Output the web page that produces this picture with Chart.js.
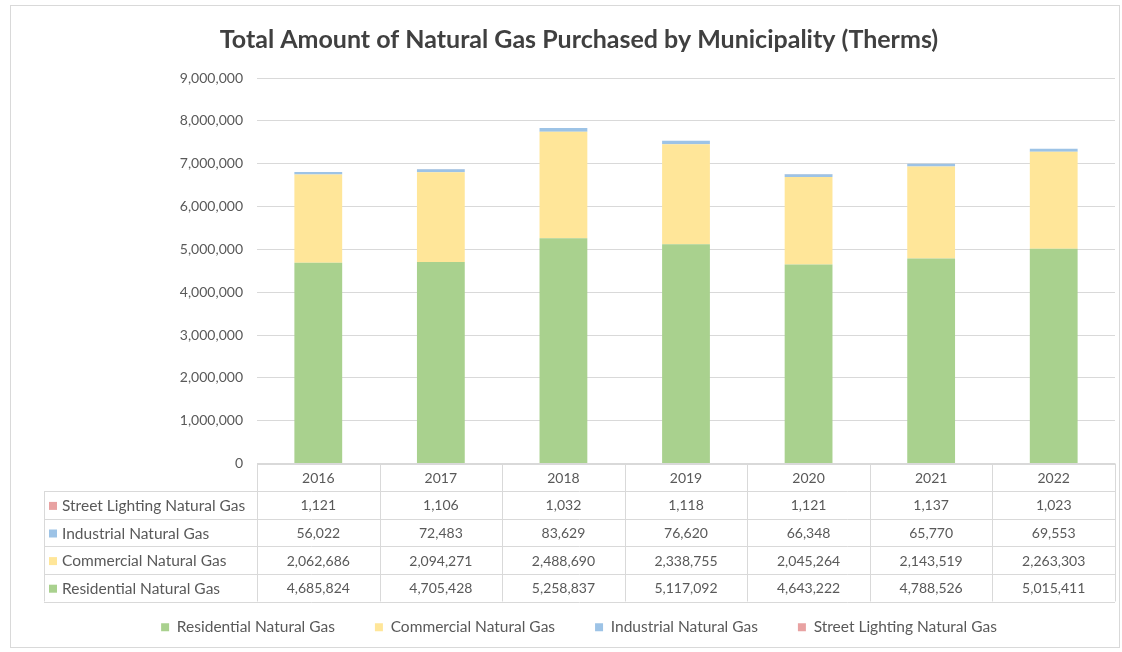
<!DOCTYPE html>
<html lang="en">
<head>
  <meta charset="UTF-8">
  <title>Total Amount of Natural Gas Purchased by Municipality (Therms)</title>
  <script src="https://cdn.jsdelivr.net/npm/chart.js"></script>
  <style>
    body { margin: 0; padding: 0; background: #fff; font-family: Lato, "Liberation Sans", sans-serif; }
    .frame { position: absolute; left: 10px; top: 5px; width: 1110px; height: 643px; border: 1px solid #d9d9d9; box-sizing: border-box; }
    #gasChart { display: block; }
  </style>
</head>
<body>
  <div class="frame">
    <canvas id="gasChart" width="1108" height="641"></canvas>
  </div>

  <script>
    // values
    var years = ['2016', '2017', '2018', '2019', '2020', '2021', '2022'];
    var residential = [4685824, 4705428, 5258837, 5117092, 4643222, 4788526, 5015411];
    var commercial = [2062686, 2094271, 2488690, 2338755, 2045264, 2143519, 2263303];
    var industrial = [56022, 72483, 83629, 76620, 66348, 65770, 69553];
    var streetLighting = [1121, 1106, 1032, 1118, 1121, 1137, 1023];

    var textColor = '#595959';
    var lineColor = '#d9d9d9';
    var fontFamily = 'Lato, "Liberation Sans", sans-serif';

    // data table drawn under the plot, aligned on the x scale
    var dataTable = {
      id: 'dataTable',
      afterDraw: function(chart) {
        var ctx = chart.ctx;
        var xs = chart.scales.x;
        var area = chart.chartArea;
        var rowH = 27.6;
        var labelLeft = 33;
        var top = area.bottom;
        var colW = (area.right - area.left) / years.length;
        var rows = chart.data.datasets.slice().reverse();

        ctx.save();
        ctx.strokeStyle = lineColor;
        ctx.lineWidth = 1;
        ctx.fillStyle = textColor;
        ctx.textBaseline = 'middle';

        // horizontal lines
        ctx.beginPath();
        ctx.moveTo(area.left, Math.round(top) + 0.5);
        ctx.lineTo(area.right, Math.round(top) + 0.5);
        for (var r = 1; r <= rows.length + 1; r++) {
          var y = Math.round(top + r * rowH) + 0.5;
          ctx.moveTo(labelLeft, y);
          ctx.lineTo(area.right, y);
        }
        // vertical lines
        for (var c = 0; c <= years.length; c++) {
          var x = Math.round(area.left + c * colW) + 0.5;
          ctx.moveTo(x, top);
          ctx.lineTo(x, top + (rows.length + 1) * rowH);
        }
        ctx.moveTo(labelLeft + 0.5, top + rowH);
        ctx.lineTo(labelLeft + 0.5, top + (rows.length + 1) * rowH);
        ctx.stroke();

        // header
        ctx.font = '14px ' + fontFamily;
        ctx.textAlign = 'center';
        years.forEach(function(yr, i) {
          ctx.fillText(yr, xs.getPixelForValue(i), top + rowH / 2 + 1);
        });

        // rows
        rows.forEach(function(ds, r) {
          var cy = top + (r + 1.5) * rowH + 1;
          ctx.fillStyle = ds.backgroundColor;
          ctx.fillRect(labelLeft + 5, cy - 4, 8, 8);
          ctx.fillStyle = textColor;
          ctx.font = '15.5px ' + fontFamily;
          ctx.textAlign = 'left';
          ctx.fillText(ds.label, labelLeft + 18, cy);
          ctx.font = '14px ' + fontFamily;
          ctx.textAlign = 'center';
          ds.data.forEach(function(v, i) {
            ctx.fillText(v.toLocaleString('en-US'), xs.getPixelForValue(i), cy);
          });
        });
        ctx.restore();
      }
    };

    var ctx = document.getElementById('gasChart').getContext('2d');
    new Chart(ctx, {
      type: 'bar',
      data: {
        labels: years,
        datasets: [
          { label: 'Residential Natural Gas', data: residential, backgroundColor: '#a9d18e' },
          { label: 'Commercial Natural Gas', data: commercial, backgroundColor: '#ffe699' },
          { label: 'Industrial Natural Gas', data: industrial, backgroundColor: '#9dc3e6' },
          { label: 'Street Lighting Natural Gas', data: streetLighting, backgroundColor: '#e8a2a2' }
        ]
      },
      options: {
        responsive: false,
        animation: false,
        layout: { padding: { left: 32, right: 4, top: 0, bottom: 2 } },
        datasets: { bar: { categoryPercentage: 1, barPercentage: 0.39 } },
        plugins: {
          title: {
            display: true,
            text: 'Total Amount of Natural Gas Purchased by Municipality (Therms)',
            color: '#404040',
            font: { family: fontFamily, size: 25, weight: 'bold' },
            padding: { top: 19, bottom: 23 }
          },
          legend: {
            position: 'bottom',
            labels: {
              color: textColor,
              boxWidth: 8,
              boxHeight: 8,
              padding: 40,
              font: { family: fontFamily, size: 15.5 }
            }
          },
          tooltip: { enabled: false }
        },
        scales: {
          x: {
            stacked: true,
            ticks: { display: false },
            grid: { display: false },
            border: { display: false },
            afterFit: function(scale) { scale.height = 116; }
          },
          y: {
            stacked: true,
            min: 0,
            max: 9000000,
            ticks: {
              stepSize: 1000000,
              color: textColor,
              padding: 14,
              font: { family: fontFamily, size: 14 },
              callback: function(v) { return v.toLocaleString('en-US'); }
            },
            grid: { color: lineColor, drawTicks: false },
            border: { display: false },
            afterFit: function(scale) { scale.width = 214; }
          }
        }
      },
      plugins: [dataTable]
    });
  </script>
</body>
</html>
